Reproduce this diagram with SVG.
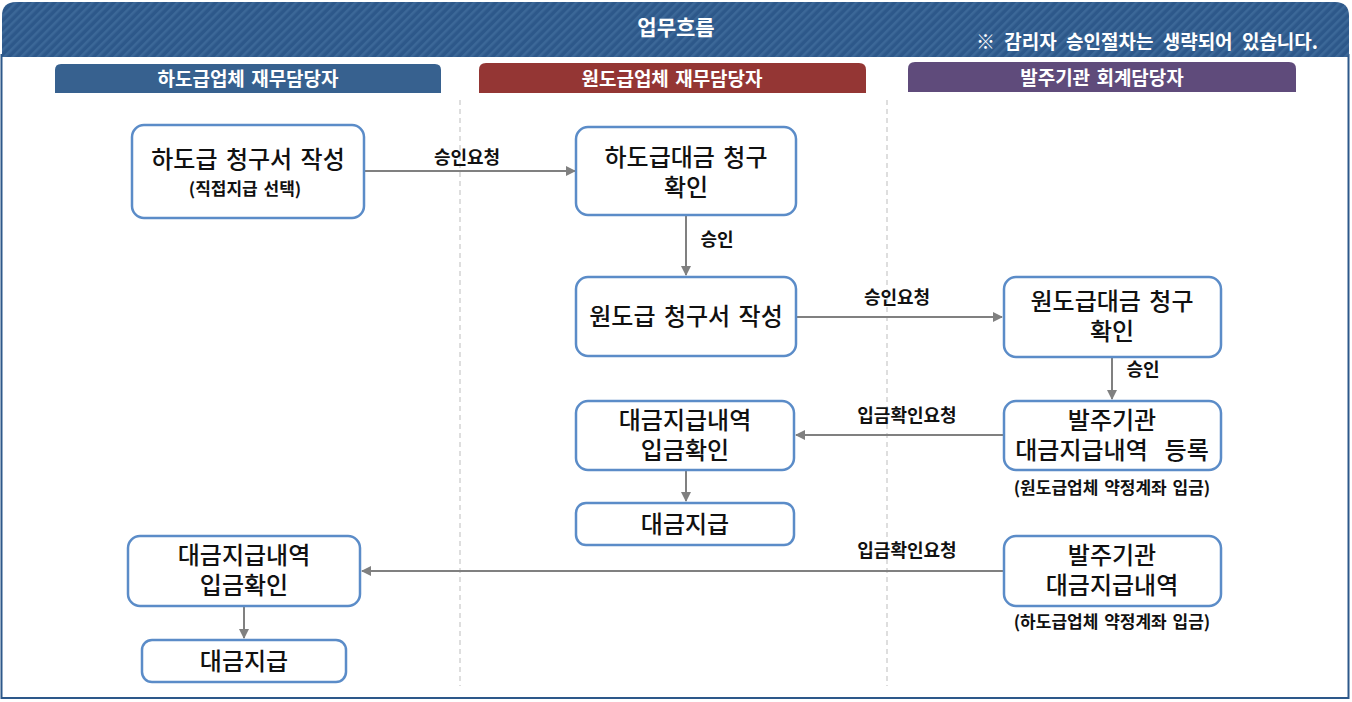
<svg xmlns="http://www.w3.org/2000/svg" width="1352" height="702" viewBox="0 0 1352 702">
<defs>
<pattern id="stripes" width="6" height="6" patternUnits="userSpaceOnUse" patternTransform="rotate(45)">
<rect width="6" height="6" fill="#2d588a"/>
<rect width="2.5" height="6" fill="#3c6898"/>
</pattern>
<marker id="arr" viewBox="0 0 10 10" refX="9" refY="5" markerWidth="5" markerHeight="5" orient="auto" markerUnits="strokeWidth">
<path d="M0,0 L10,5 L0,10 z" fill="#808080"/>
</marker>
<style>
.node{fill:#fff;stroke:#5b8cc8;stroke-width:2.5}
.t{font-family:"Malgun Gothic","Noto Sans CJK KR",sans-serif;font-size:24px;font-weight:500;fill:#111;text-anchor:middle;word-spacing:3px}
.s{font-family:"Malgun Gothic","Noto Sans CJK KR",sans-serif;font-size:17px;font-weight:bold;fill:#111;text-anchor:middle;word-spacing:2px}
.lbl{font-family:"Malgun Gothic","Noto Sans CJK KR",sans-serif;font-size:18px;font-weight:bold;fill:#111;text-anchor:middle}
.lane{font-family:"Malgun Gothic","Noto Sans CJK KR",sans-serif;font-size:19px;font-weight:bold;fill:#fff;text-anchor:middle;word-spacing:2px}
.conn{stroke:#808080;stroke-width:2;fill:none;marker-end:url(#arr)}
.div{stroke:#c8c8c8;stroke-width:1.2;stroke-dasharray:5,4}
</style>
</defs>

<g id="frame">
<rect x="1.5" y="55" width="1347" height="643" fill="#fff" stroke="#2d588a" stroke-width="2"/>
<path d="M2,57 L2,16 Q2,2 16,2 L1335,2 Q1349,2 1349,16 L1349,57 Z" fill="url(#stripes)"/>
<text x="676" y="35" font-family="Malgun Gothic, Noto Sans CJK KR, sans-serif" font-size="21" font-weight="bold" fill="#fff" text-anchor="middle">업무흐름</text>
<text x="1318" y="49" font-family="Malgun Gothic, Noto Sans CJK KR, sans-serif" font-size="19" font-weight="bold" fill="#fff" text-anchor="end" word-spacing="5">※ 감리자 승인절차는 생략되어 있습니다.</text>
</g>

<g id="lanes">
<path d="M55,93 L55,70 Q55,64 61,64 L435,64 Q441,64 441,70 L441,93 Z" fill="#37618f"/>
<text class="lane" x="248" y="86">하도급업체 재무담당자</text>
<path d="M479,93 L479,70 Q479,63 486,63 L859,63 Q866,63 866,70 L866,93 Z" fill="#943634"/>
<text class="lane" x="672" y="86">원도급업체 재무담당자</text>
<path d="M908,92 L908,69 Q908,62 915,62 L1289,62 Q1296,62 1296,69 L1296,92 Z" fill="#5f4b7b"/>
<text class="lane" x="1102" y="85">발주기관 회계담당자</text>
<line class="div" x1="460" y1="100" x2="460" y2="686"/>
<line class="div" x1="887" y1="100" x2="887" y2="686"/>
</g>

<g id="connectors">
<line class="conn" x1="365" y1="171" x2="575" y2="171"/>
<text class="lbl" x="467" y="164">승인요청</text>
<line class="conn" x1="686" y1="216" x2="686" y2="275"/>
<text class="lbl" x="717" y="246">승인</text>
<line class="conn" x1="797" y1="317" x2="1002" y2="317"/>
<text class="lbl" x="897" y="304">승인요청</text>
<line class="conn" x1="1112" y1="358" x2="1112" y2="399"/>
<text class="lbl" x="1143" y="376">승인</text>
<line class="conn" x1="1003" y1="435" x2="796" y2="435"/>
<text class="lbl" x="907" y="422">입금확인요청</text>
<line class="conn" x1="686" y1="471" x2="686" y2="501"/>
<line class="conn" x1="1003" y1="571" x2="362" y2="571"/>
<text class="lbl" x="907" y="557">입금확인요청</text>
<line class="conn" x1="244" y1="607" x2="244" y2="638"/>
</g>

<g id="n1">
<rect class="node" x="132" y="125" width="232" height="93" rx="12"/>
<text class="t" x="248" y="168">하도급 청구서 작성<tspan class="s" x="245" y="195">(직접지급 선택)</tspan></text>
</g>
<g id="n2">
<rect class="node" x="576" y="127" width="220" height="88" rx="12"/>
<text class="t" x="686" y="166">하도급대금 청구<tspan x="686" y="196">확인</tspan></text>
</g>
<g id="n3">
<rect class="node" x="576" y="277" width="220" height="79" rx="12"/>
<text class="t" x="686" y="325">원도급 청구서 작성</text>
</g>
<g id="n4">
<rect class="node" x="1004" y="277" width="217" height="80" rx="12"/>
<text class="t" x="1112" y="310">원도급대금 청구<tspan x="1112" y="340">확인</tspan></text>
</g>
<g id="n5">
<rect class="node" x="1004" y="401" width="217" height="69" rx="12"/>
<text class="t" x="1112" y="429" xml:space="preserve">발주기관<tspan x="1112" y="459">대금지급내역  등록</tspan></text>
<text class="s" x="1112" y="494">(원도급업체 약정계좌 입금)</text>
</g>
<g id="n6">
<rect class="node" x="576" y="401" width="218" height="69" rx="12"/>
<text class="t" x="685" y="429">대금지급내역<tspan x="685" y="459">입금확인</tspan></text>
</g>
<g id="n7">
<rect class="node" x="576" y="503" width="218" height="42" rx="10"/>
<text class="t" x="685" y="533">대금지급</text>
</g>
<g id="n8">
<rect class="node" x="128" y="536" width="232" height="70" rx="12"/>
<text class="t" x="244" y="564">대금지급내역<tspan x="244" y="594">입금확인</tspan></text>
</g>
<g id="n9">
<rect class="node" x="142" y="640" width="204" height="42" rx="10"/>
<text class="t" x="244" y="670">대금지급</text>
</g>
<g id="n10">
<rect class="node" x="1004" y="536" width="217" height="70" rx="12"/>
<text class="t" x="1112" y="564">발주기관<tspan x="1112" y="594">대금지급내역</tspan></text>
<text class="s" x="1112" y="628">(하도급업체 약정계좌 입금)</text>
</g>
</svg>
